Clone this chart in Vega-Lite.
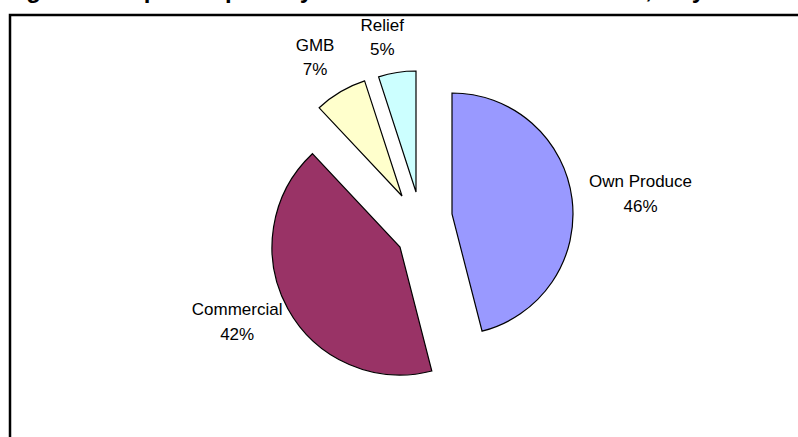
{
  "$schema": "https://vega.github.io/schema/vega-lite/v6.json",
  "autosize": {"type": "none"},
  "width": 792,
  "height": 426,
  "padding": {"left": 10, "top": 15, "right": -4, "bottom": -4},
  "background": "white",
  "view": {"stroke": "black", "strokeWidth": 2.5, "fill": "white"},
  "title": {
    "text": "Figure 3: Reported primary sources of household cereal, May 2003",
    "anchor": "start",
    "frame": "group",
    "font": "Liberation Sans",
    "fontSize": 24,
    "fontWeight": "bold",
    "color": "black",
    "baseline": "alphabetic",
    "offset": 0,
    "dx": -5,
    "dy": 7
  },
  "data": {
    "values": [
      {"source": "Own Produce", "share": 46, "n": 1},
      {"source": "Commercial", "share": 42, "n": 2},
      {"source": "GMB", "share": 7, "n": 3},
      {"source": "Relief", "share": 5, "n": 4}
    ]
  },
  "transform": [
    {"stack": "share", "groupby": [], "sort": [{"field": "n", "order": "ascending"}], "as": ["t0", "t1"]},
    {"calculate": "(datum.t0 + datum.t1) / 2", "as": "mid"},
    {"calculate": "datum.source + '\\n' + datum.share + '%'", "as": "label"}
  ],
  "encoding": {
    "color": {
      "field": "source",
      "type": "nominal",
      "scale": {
        "domain": ["Own Produce", "Commercial", "GMB", "Relief"],
        "range": ["#9999FF", "#993366", "#FFFFCC", "#CCFFFF"]
      },
      "legend": null
    }
  },
  "layer": [
    {
      "transform": [{"filter": "datum.source === 'Own Produce'"}],
      "layer": [
        {
          "mark": {"type": "arc", "radius": 121, "stroke": "black", "strokeWidth": 1.2, "xOffset": 46, "yOffset": -14},
          "encoding": {
            "theta": {"field": "t0", "type": "quantitative", "scale": {"domain": [0, 100]}},
            "theta2": {"field": "t1"}
          }
        },
        {
          "mark": {"type": "text", "radius": 189, "font": "Liberation Sans", "fontSize": 17, "lineBreak": "\n", "lineHeight": 24.5, "color": "black", "align": "center", "baseline": "middle", "dy": -12, "xOffset": 47, "yOffset": -10},
          "encoding": {
            "theta": {"field": "mid", "type": "quantitative", "scale": {"domain": [0, 100]}},
            "text": {"field": "label"},
            "color": {"value": "black"}
          }
        }
      ]
    },
    {
      "transform": [{"filter": "datum.source === 'Commercial'"}],
      "layer": [
        {
          "mark": {"type": "arc", "radius": 128, "stroke": "black", "strokeWidth": 1.2, "xOffset": -6, "yOffset": 19},
          "encoding": {
            "theta": {"field": "t0", "type": "quantitative", "scale": {"domain": [0, 100]}},
            "theta2": {"field": "t1"}
          }
        },
        {
          "mark": {"type": "text", "radius": 179, "font": "Liberation Sans", "fontSize": 17, "lineBreak": "\n", "lineHeight": 24.5, "color": "black", "align": "center", "baseline": "middle", "dy": -12, "xOffset": -12, "yOffset": 8},
          "encoding": {
            "theta": {"field": "mid", "type": "quantitative", "scale": {"domain": [0, 100]}},
            "text": {"field": "label"},
            "color": {"value": "black"}
          }
        }
      ]
    },
    {
      "transform": [{"filter": "datum.source === 'GMB'"}],
      "layer": [
        {
          "mark": {"type": "arc", "radius": 121, "stroke": "black", "strokeWidth": 1.2, "xOffset": -4, "yOffset": -32},
          "encoding": {
            "theta": {"field": "t0", "type": "quantitative", "scale": {"domain": [0, 100]}},
            "theta2": {"field": "t1"}
          }
        },
        {
          "mark": {"type": "text", "radius": 163, "font": "Liberation Sans", "fontSize": 17, "lineBreak": "\n", "lineHeight": 24.5, "color": "black", "align": "center", "baseline": "middle", "dy": -12, "xOffset": -8, "yOffset": -30},
          "encoding": {
            "theta": {"field": "mid", "type": "quantitative", "scale": {"domain": [0, 100]}},
            "text": {"field": "label"},
            "color": {"value": "black"}
          }
        }
      ]
    },
    {
      "transform": [{"filter": "datum.source === 'Relief'"}],
      "layer": [
        {
          "mark": {"type": "arc", "radius": 121, "stroke": "black", "strokeWidth": 1.2, "xOffset": 10, "yOffset": -36},
          "encoding": {
            "theta": {"field": "t0", "type": "quantitative", "scale": {"domain": [0, 100]}},
            "theta2": {"field": "t1"}
          }
        },
        {
          "mark": {"type": "text", "radius": 158, "font": "Liberation Sans", "fontSize": 17, "lineBreak": "\n", "lineHeight": 24.5, "color": "black", "align": "center", "baseline": "middle", "dy": -12, "xOffset": 1, "yOffset": -34},
          "encoding": {
            "theta": {"field": "mid", "type": "quantitative", "scale": {"domain": [0, 100]}},
            "text": {"field": "label"},
            "color": {"value": "black"}
          }
        }
      ]
    }
  ]
}
